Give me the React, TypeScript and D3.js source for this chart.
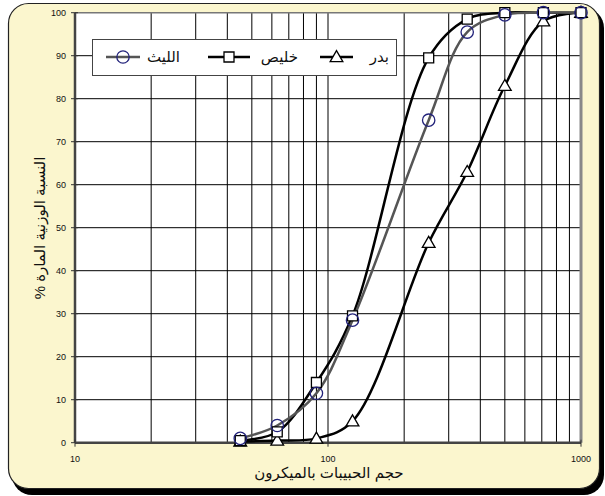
import React, { useEffect, useRef } from 'react'
import * as d3 from 'd3'

// particle size in microns (sieve openings)
const sizes = [45, 63, 90, 125, 250, 355, 500, 710, 1000]

// cumulative passing %
const laith = [1, 4, 11.5, 28.5, 75, 95.5, 99.5, 100, 100]
const khulais = [0.5, 2.5, 14, 29.5, 89.5, 98.5, 100, 100, 100]
const badr = [0.3, 0.5, 1, 5, 46.5, 63, 83, 98, 100]

const yTicks = [0, 10, 20, 30, 40, 50, 60, 70, 80, 90, 100]
const xTicks = [10, 100, 1000]
const xMinor = [20, 30, 40, 50, 60, 70, 80, 90, 200, 300, 400, 500, 600, 700, 800, 900]

const names = { laith: 'الليث', khulais: 'خليص', badr: 'بدر' }
const xTitle = 'حجم الحبيبات بالميكرون'
const yTitle = 'النسبة الوزنية المارة %'

const W = 605
const H = 496
const margin = { top: 12.7, right: 24, bottom: 53.3, left: 75 }
const font = "Arial, 'Liberation Sans', 'DejaVu Sans', sans-serif"

export default function App() {
  const svgRef = useRef<SVGSVGElement>(null)

  useEffect(() => {
    document.body.style.margin = '0'
    if (!svgRef.current) return
    const svg = d3.select(svgRef.current)
    svg.selectAll('*').remove()

    const innerW = W - margin.left - margin.right
    const innerH = H - margin.top - margin.bottom

    // outer frame with drop shadow
    svg.append('rect')
      .attr('x', 12).attr('y', 8).attr('width', 592).attr('height', 487)
      .attr('rx', 20).attr('fill', '#000')
    svg.append('rect')
      .attr('x', 8.5).attr('y', 3.5).attr('width', 591).attr('height', 485)
      .attr('rx', 20).attr('fill', '#FBF6CE').attr('stroke', '#222').attr('stroke-width', 1.2)

    const g = svg.append('g').attr('transform', `translate(${margin.left},${margin.top})`)

    const x = d3.scaleLog().domain([10, 1000]).range([0, innerW])
    const y = d3.scaleLinear().domain([0, 100]).range([innerH, 0])

    g.append('rect').attr('width', innerW).attr('height', innerH).attr('fill', '#fff')

    // grid
    g.selectAll('line.vg')
      .data([...xMinor, 100])
      .enter().append('line')
      .attr('x1', d => x(d)).attr('x2', d => x(d))
      .attr('y1', 0).attr('y2', innerH)
      .attr('stroke', '#000').attr('stroke-width', 1)
    g.selectAll('line.hg')
      .data(yTicks.slice(1, -1))
      .enter().append('line')
      .attr('x1', 0).attr('x2', innerW)
      .attr('y1', d => y(d)).attr('y2', d => y(d))
      .attr('stroke', '#000').attr('stroke-width', 1)

    // plot border
    g.append('line').attr('x1', 0).attr('x2', innerW).attr('y1', 0).attr('y2', 0)
      .attr('stroke', '#777').attr('stroke-width', 1.5)
    g.append('line').attr('x1', innerW).attr('x2', innerW).attr('y1', 0).attr('y2', innerH)
      .attr('stroke', '#888').attr('stroke-width', 3)

    // y axis
    const yAxis = g.append('g')
    yAxis.append('line').attr('x1', 0).attr('x2', 0).attr('y1', 0).attr('y2', innerH)
      .attr('stroke', '#444').attr('stroke-width', 2.5)
    yAxis.selectAll('line.t')
      .data(yTicks).enter().append('line')
      .attr('x1', -4).attr('x2', 3).attr('y1', d => y(d)).attr('y2', d => y(d))
      .attr('stroke', '#333').attr('stroke-width', 1)
    yAxis.selectAll('text')
      .data(yTicks).enter().append('text')
      .attr('x', -9).attr('y', d => y(d)).attr('dy', '0.35em')
      .attr('text-anchor', 'end').attr('font-family', font).attr('font-size', 9)
      .attr('fill', '#111').text(d => d)

    // x axis
    const xAxis = g.append('g').attr('transform', `translate(0,${innerH})`)
    xAxis.append('line').attr('x1', 0).attr('x2', innerW)
      .attr('stroke', '#444').attr('stroke-width', 2.5)
    xAxis.selectAll('line.t')
      .data(xTicks).enter().append('line')
      .attr('x1', d => x(d)).attr('x2', d => x(d)).attr('y1', -3).attr('y2', 4)
      .attr('stroke', '#333').attr('stroke-width', 1)
    xAxis.selectAll('text')
      .data(xTicks).enter().append('text')
      .attr('x', d => x(d)).attr('y', 19)
      .attr('text-anchor', 'middle').attr('font-family', font).attr('font-size', 9)
      .attr('fill', '#111').text(d => d)

    // titles
    svg.append('text')
      .attr('x', 329).attr('y', 478)
      .attr('text-anchor', 'middle').attr('font-family', font).attr('font-size', 15)
      .attr('direction', 'rtl')
      .attr('fill', '#111').text(xTitle)
    svg.append('text')
      .attr('transform', 'translate(45,228) rotate(-90)')
      .attr('text-anchor', 'middle').attr('font-family', font).attr('font-size', 15)
      .attr('direction', 'rtl')
      .attr('fill', '#111').text(yTitle)

    const line = d3.line<[number, number]>()
      .x(d => x(d[0])).y(d => y(d[1]))
      .curve(d3.curveCatmullRom.alpha(0.5))

    const series = [
      { key: 'badr', vals: badr, color: '#000' },
      { key: 'khulais', vals: khulais, color: '#000' },
      { key: 'laith', vals: laith, color: '#555' },
    ]

    series.forEach(s => {
      g.append('path')
        .datum(sizes.map((v, i) => [v, s.vals[i]] as [number, number]))
        .attr('d', line)
        .attr('fill', 'none').attr('stroke', s.color).attr('stroke-width', 2.5)
    })

    const sym = (kind: string) => {
      if (kind === 'laith') return d3.symbol().type(d3.symbolCircle).size(120)()
      if (kind === 'khulais') return d3.symbol().type(d3.symbolSquare).size(100)()
      return d3.symbol().type(d3.symbolTriangle).size(70)()
    }
    const markerStyle = (sel: d3.Selection<SVGPathElement, any, any, any>, kind: string) => {
      if (kind === 'laith') sel.attr('fill', 'none').attr('stroke', '#22227A').attr('stroke-width', 1.3)
      else sel.attr('fill', '#fff').attr('stroke', '#000').attr('stroke-width', 1.3)
    }

    ;['badr', 'khulais', 'laith'].forEach(k => {
      const vals = k === 'badr' ? badr : k === 'khulais' ? khulais : laith
      const sel = g.selectAll(`path.m-${k}`)
        .data(sizes.map((v, i) => [v, vals[i]]))
        .enter().append('path')
        .attr('transform', d => `translate(${x(d[0])},${y(d[1]) + (k === 'badr' ? 1 : 0)})`)
        .attr('d', sym(k))
      markerStyle(sel as any, k)
    })

    // legend
    const lg = svg.append('g')
    lg.append('rect').attr('x', 92.5).attr('y', 39.5).attr('width', 304).attr('height', 36)
      .attr('fill', '#fff').attr('stroke', '#444').attr('stroke-width', 1)
    const ly = 57
    const items = [
      { k: 'laith', x1: 106, x2: 140, label: names.laith, tx: 180 },
      { k: 'khulais', x1: 208, x2: 250, label: names.khulais, tx: 298 },
      { k: 'badr', x1: 320, x2: 353, label: names.badr, tx: 389 },
    ]
    items.forEach(it => {
      lg.append('line').attr('x1', it.x1).attr('x2', it.x2).attr('y1', ly).attr('y2', ly)
        .attr('stroke', it.k === 'laith' ? '#555' : '#000').attr('stroke-width', 2.5)
      const m = lg.append('path')
        .attr('transform', `translate(${(it.x1 + it.x2) / 2},${ly + (it.k === 'badr' ? 1 : 0)})`)
        .attr('d', sym(it.k))
      markerStyle(m as any, it.k)
      lg.append('text').attr('x', it.tx).attr('y', ly).attr('dy', '0.3em')
        .attr('text-anchor', 'end').attr('font-family', font).attr('font-size', 15)
        .attr('fill', '#111').text(it.label)
    })
  }, [])

  return <svg ref={svgRef} width={W} height={H} style={{ display: 'block' }} />
}
